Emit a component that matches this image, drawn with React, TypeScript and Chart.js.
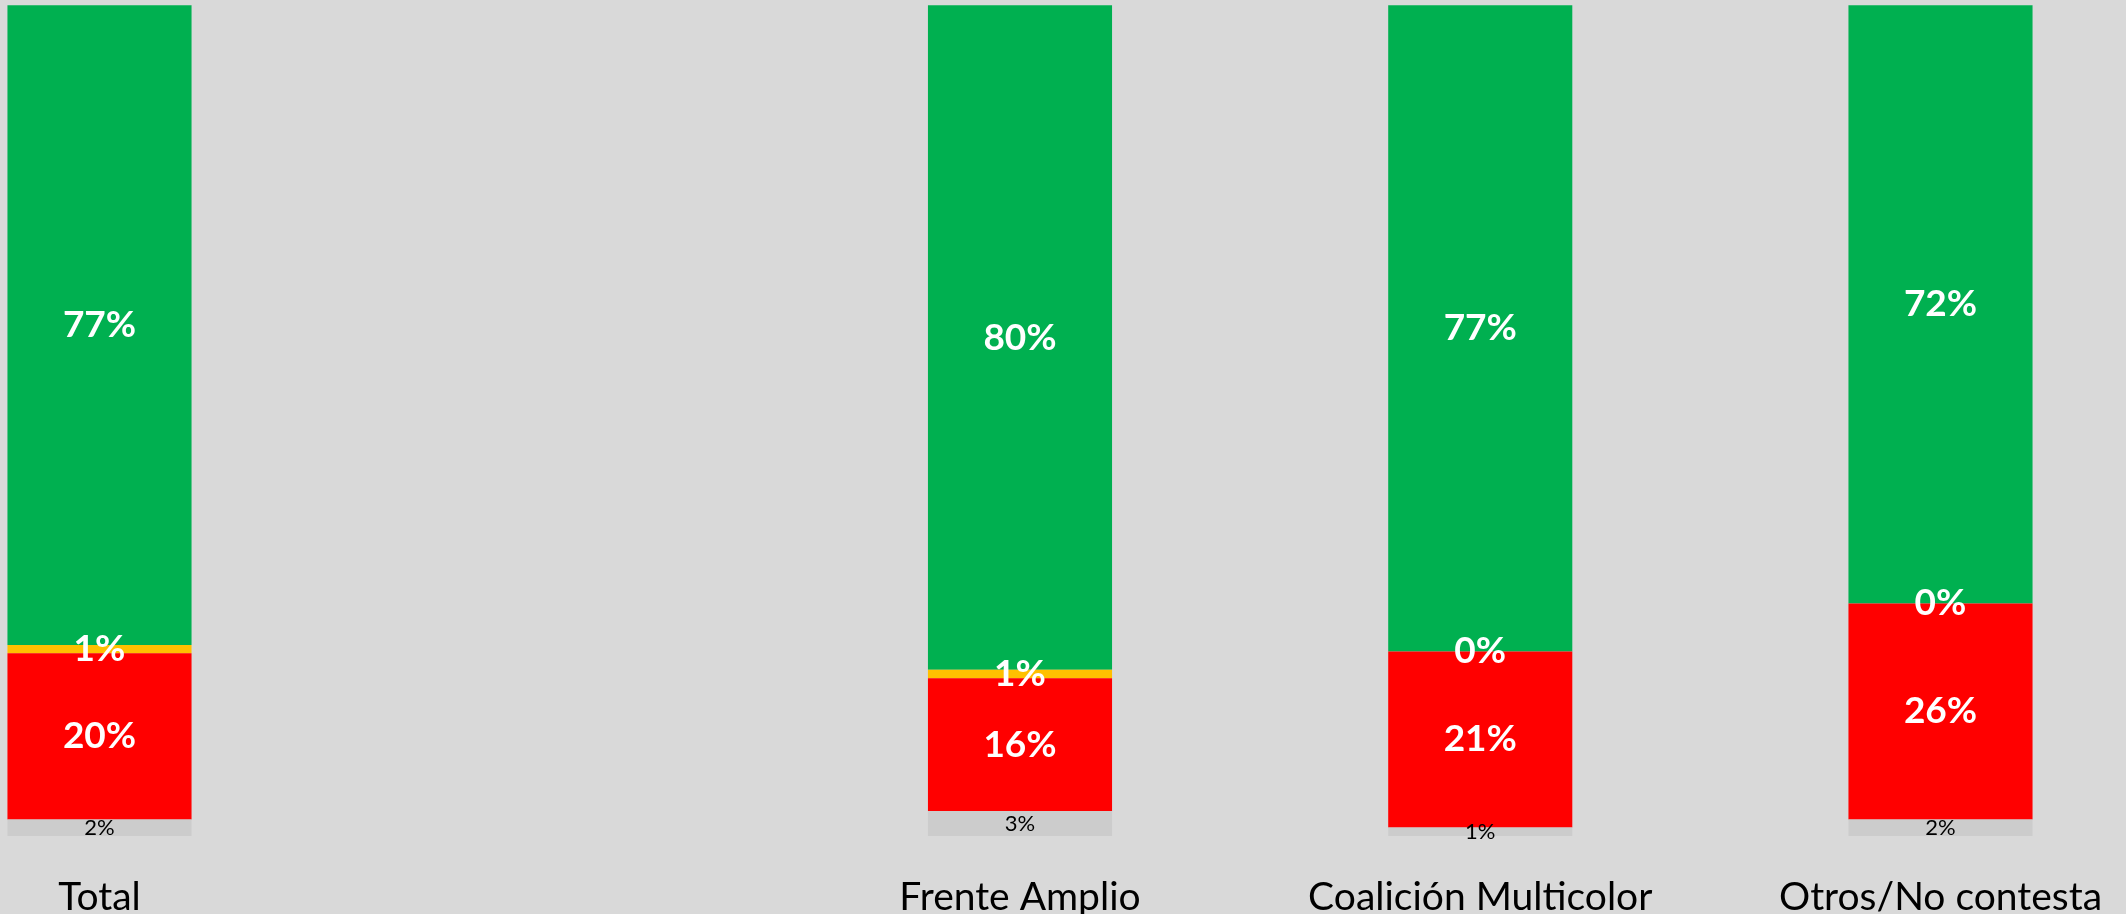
import React, { useEffect, useRef } from "react";
import { Chart, registerables } from "chart.js";

Chart.register(...registerables);

const categories = ["Total", "", "Frente Amplio", "Coalición Multicolor", "Otros/No contesta"];
const nsnc = [2, null, 3, 1, 2];
const desaprueba = [20, null, 16, 21, 26];
const neutral = [1, null, 1, 0, 0];
const aprueba = [77, null, 80, 77, 72];

const seriesNames = ["NS/NC", "Desaprueba", "Ni aprueba ni desaprueba", "Aprueba"];
const seriesRaw = [nsnc, desaprueba, neutral, aprueba];
const seriesColors = ["#CCCCCC", "#FF0000", "#FFC000", "#00B050"];

const FONT = "Lato, 'Open Sans', sans-serif";

const totals = categories.map((_, i) =>
  seriesRaw.reduce((s, arr) => s + (arr[i] == null ? 0 : (arr[i] as number)), 0)
);

const labelPlugin = {
  id: "segLabels",
  afterDatasetsDraw(chart: any) {
    const ctx = chart.ctx;
    ctx.save();
    ctx.textAlign = "center";
    ctx.textBaseline = "middle";
    chart.data.datasets.forEach((ds: any, di: number) => {
      const meta = chart.getDatasetMeta(di);
      meta.data.forEach((el: any, i: number) => {
        const raw = ds.rawValues[i];
        if (raw == null) return;
        const { x, y, base } = el.getProps(["x", "y", "base"], true);
        const cy = (y + base) / 2;
        if (di === 0) {
          ctx.fillStyle = "#000000";
          ctx.font = `400 22px ${FONT}`;
        } else {
          ctx.fillStyle = "#FFFFFF";
          ctx.font = `700 37px ${FONT}`;
        }
        ctx.fillText(`${raw}%`, x, cy);
      });
    });
    ctx.restore();
  },
};

export default function App() {
  const ref = useRef<HTMLCanvasElement>(null);
  useEffect(() => {
    document.body.style.margin = "0";
    document.body.style.background = "#D9D9D9";
    const chart = new Chart(ref.current as HTMLCanvasElement, {
      type: "bar",
      data: {
        labels: categories,
        datasets: seriesRaw.map((arr, k) => ({
          label: seriesNames[k],
          data: arr.map((v, i) => (v == null ? null : ((v as number) / totals[i]) * 100)),
          rawValues: arr,
          backgroundColor: seriesColors[k],
          borderWidth: 0,
          categoryPercentage: 1,
          barPercentage: 0.4,
          clip: false,
        })) as any,
      },
      options: {
        animation: false,
        responsive: false,
        layout: { padding: { left: 99.5, right: 185.5, top: 5.3, bottom: 0 } },
        plugins: { legend: { display: false }, tooltip: { enabled: false }, title: { display: false } },
        scales: {
          x: {
            stacked: true,
            offset: false,
            grid: { display: false },
            border: { display: false },
            ticks: {
              autoSkip: false,
              maxRotation: 0,
              minRotation: 0,
              padding: 0,
              color: "#000000",
              font: { family: FONT, size: 39, weight: "normal", lineHeight: 2.75 },
            },
            afterFit: (scale: any) => {
              scale.height = 78;
            },
          },
          y: {
            stacked: true,
            min: 0,
            max: 100,
            display: false,
          },
        },
      },
      plugins: [labelPlugin],
    });
    return () => chart.destroy();
  }, []);
  return (
    <div style={{ position: "absolute", left: 0, top: 0, width: 2126, height: 914, background: "#D9D9D9" }}>
      <canvas ref={ref} width={2126} height={914} style={{ display: "block", width: 2126, height: 914 }} />
    </div>
  );
}
